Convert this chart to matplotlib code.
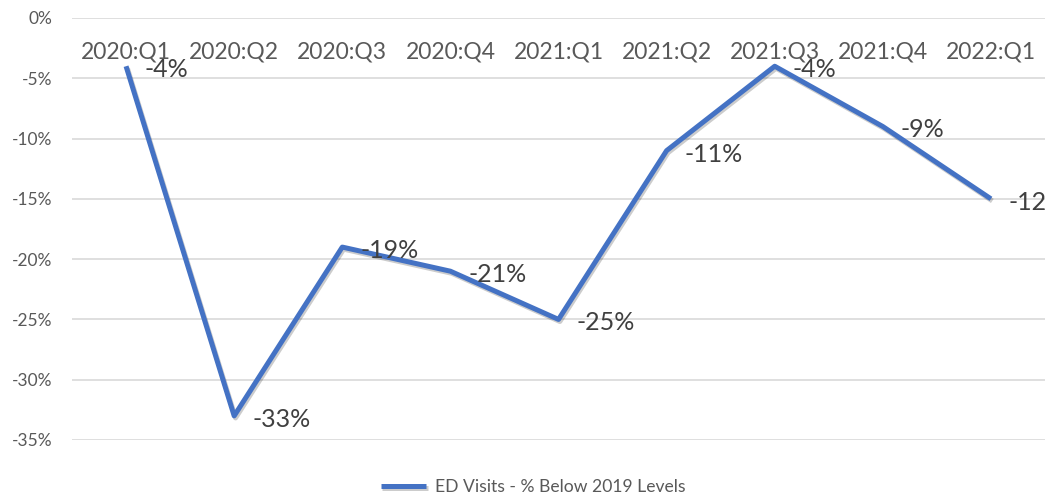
import matplotlib
matplotlib.use("Agg")
import matplotlib.pyplot as plt
from matplotlib.ticker import FuncFormatter
import matplotlib.patheffects as pe

categories = ["2020:Q1", "2020:Q2", "2020:Q3", "2020:Q4", "2021:Q1",
              "2021:Q2", "2021:Q3", "2021:Q4", "2022:Q1"]
values = [-4, -33, -19, -21, -25, -11, -4, -9, -15]
point_labels = ["-4%", "-33%", "-19%", "-21%", "-25%", "-11%", "-4%", "-9%", "-12%"]
series_name = "ED Visits - % Below 2019 Levels"

plt.rcParams['font.family'] = ['Lato', 'DejaVu Sans']

W, H = 1047, 495
fig = plt.figure(figsize=(W / 100, H / 100), dpi=100)
ax = fig.add_axes([72 / W, 1 - 440 / H, (1045 - 72) / W, (440 - 18) / H])

x = list(range(len(categories)))
color = "#4472C4"
ax.plot(x, values, color=color, lw=3.6, solid_capstyle="butt",
        path_effects=[pe.SimpleLineShadow(offset=(1, -1.5), alpha=0.2, shadow_color="black"), pe.Normal()],
        zorder=3, label=series_name)

ax.set_xlim(-0.5, len(categories) - 0.5)
ax.set_ylim(-35, 0)
ax.set_yticks(range(-35, 1, 5))
ax.yaxis.set_major_formatter(FuncFormatter(lambda v, p: f"{int(v)}%"))
ax.tick_params(axis="y", length=0, pad=14, labelsize=12.5, labelcolor="#595959")
ax.set_xticks([])
ax.grid(axis="y", color="#D9D9D9", lw=1.2)
ax.set_axisbelow(True)
for s in ax.spines.values():
    s.set_visible(False)

for i, c in enumerate(categories):
    ax.text(i, -2.85, c, ha="center", va="center", fontsize=16.5, color="#595959", zorder=2)

for i in x:
    ax.annotate(point_labels[i], (i, values[i]), xytext=(13, -2.5), textcoords="offset points",
                ha="left", va="center", fontsize=18, color="#404040", zorder=4,
                annotation_clip=False)

leg = fig.legend(loc="center", bbox_to_anchor=(533 / W, 1 - 487 / H), frameon=False,
                 fontsize=12.6, handlelength=2.6, handletextpad=0.5, labelcolor="#595959")

fig.savefig("out.png", dpi=100)
